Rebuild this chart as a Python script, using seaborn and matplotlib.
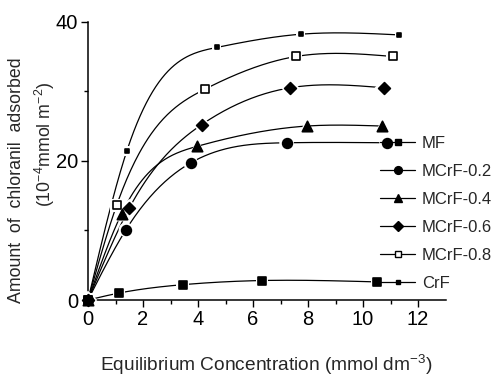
import numpy as np
import pandas as pd
import matplotlib
matplotlib.use("Agg")
import matplotlib.pyplot as plt
from matplotlib.lines import Line2D
import seaborn as sns

# ---- data ----
series_names = ["MF", "MCrF-0.2", "MCrF-0.4", "MCrF-0.6", "MCrF-0.8", "CrF"]
mf_x = [0, 1.13, 3.44, 6.32, 10.5]
mf_y = [0, 1.0, 2.2, 2.8, 2.6]
m02_x = [0, 1.38, 3.73, 7.22, 10.86]
m02_y = [0, 10.1, 19.7, 22.6, 22.6]
m04_x = [0, 1.22, 3.98, 7.95, 10.7]
m04_y = [0, 12.4, 22.1, 25.0, 25.0]
m06_x = [0, 1.5, 4.13, 7.35, 10.76]
m06_y = [0, 13.2, 25.2, 30.5, 30.5]
m08_x = [0, 1.04, 4.25, 7.56, 11.08]
m08_y = [0, 13.6, 30.3, 35.0, 35.0]
crf_x = [0, 1.41, 4.68, 7.73, 11.32]
crf_y = [0, 21.4, 36.3, 38.2, 38.1]
x_ticks = [0, 2, 4, 6, 8, 10, 12]
y_ticks = [0, 20, 40]

series_x = [mf_x, m02_x, m04_x, m06_x, m08_x, crf_x]
series_y = [mf_y, m02_y, m04_y, m06_y, m08_y, crf_y]

# ---- styles ----
styles = {
    "MF":       dict(marker="s", size=5.5, fc="black"),
    "MCrF-0.2": dict(marker="o", size=7.0, fc="black"),
    "MCrF-0.4": dict(marker="^", size=7.5, fc="black"),
    "MCrF-0.6": dict(marker="D", size=6.0, fc="black"),
    "MCrF-0.8": dict(marker="s", size=6.0, fc="white"),
    "CrF":      dict(marker="s", size=3.2, fc="black"),
}


def natural_spline(x, y, n=300):
    x = np.asarray(x, float)
    y = np.asarray(y, float)
    k = len(x)
    h = np.diff(x)
    A = np.zeros((k, k))
    b = np.zeros(k)
    A[0, 0] = 1
    A[-1, -1] = 1
    for i in range(1, k - 1):
        A[i, i - 1] = h[i - 1]
        A[i, i] = 2 * (h[i - 1] + h[i])
        A[i, i + 1] = h[i]
        b[i] = 6 * ((y[i + 1] - y[i]) / h[i] - (y[i] - y[i - 1]) / h[i - 1])
    M = np.linalg.solve(A, b)
    xs = np.linspace(x[0], x[-1], n)
    idx = np.clip(np.searchsorted(x, xs) - 1, 0, k - 2)
    x0, x1 = x[idx], x[idx + 1]
    hh = x1 - x0
    t0 = x1 - xs
    t1 = xs - x0
    ys = (M[idx] * t0 ** 3 / (6 * hh) + M[idx + 1] * t1 ** 3 / (6 * hh)
          + (y[idx] / hh - M[idx] * hh / 6) * t0
          + (y[idx + 1] / hh - M[idx + 1] * hh / 6) * t1)
    return xs, ys


sns.set_style("ticks")
plt.rcParams["font.family"] = ["Liberation Sans", "DejaVu Sans"]
plt.rcParams["mathtext.fontset"] = "custom"
plt.rcParams["mathtext.rm"] = "Liberation Sans"
plt.rcParams["mathtext.it"] = "Liberation Sans"

fig = plt.figure(figsize=(4.98, 3.79), dpi=100)
ax = fig.add_axes([88 / 498, 79 / 379, 357.5 / 498, 278.3 / 379])

order = ["CrF", "MCrF-0.8", "MCrF-0.6", "MCrF-0.4", "MF", "MCrF-0.2"]
for name in order:
    i = series_names.index(name)
    xs, ys = natural_spline(series_x[i], series_y[i])
    sns.lineplot(x=xs, y=ys, ax=ax, color="black", lw=0.9, sort=False,
                 zorder=2, estimator=None)

for name in order:
    i = series_names.index(name)
    st = styles[name]
    df = pd.DataFrame({"x": series_x[i], "y": series_y[i]})
    # white halo (gap of the line around the marker)
    sns.scatterplot(data=df, x="x", y="y", ax=ax, marker=st["marker"],
                    s=(st["size"] + 3.5) ** 2, color="white", edgecolor="none",
                    zorder=3, clip_on=False, legend=False)
    sns.scatterplot(data=df, x="x", y="y", ax=ax, marker=st["marker"],
                    s=st["size"] ** 2, facecolor=st["fc"], edgecolor="black",
                    linewidth=1.2, zorder=4, clip_on=False, legend=False)

ax.set_xlim(0, 13)
ax.set_ylim(0, 40)
ax.set_xticks(x_ticks)
ax.set_yticks(y_ticks)
ax.set_xticks(np.arange(1, 13, 2), minor=True)
ax.set_yticks([10, 30], minor=True)
ax.tick_params(axis="both", which="major", direction="out", length=5, width=1,
               labelsize=14.5, pad=2, color="black", labelcolor="black")
ax.tick_params(axis="both", which="minor", direction="out", length=3, width=1,
               color="black")
sns.despine(ax=ax)
for sp in ["left", "bottom"]:
    ax.spines[sp].set_linewidth(1.1)
    ax.spines[sp].set_color("black")
ax.set_xlabel("")
ax.set_ylabel("")

fig.text(266 / 498, 1 - 365 / 379, "Equilibrium Concentration (mmol dm$^{-3}$)",
         ha="center", va="center", fontsize=13.8)
fig.text(17 / 498, 1 - 180 / 379, "Amount  of  chloranil  adsorbed",
         ha="center", va="center", rotation=90, fontsize=12.8)
fig.text(45 / 498, 1 - 144 / 379, "(10$^{-4}$mmol m$^{-2}$)",
         ha="center", va="center", rotation=90, fontsize=12.8)

handles = []
for name in series_names:
    st = styles[name]
    handles.append(Line2D([0], [0], color="black", lw=0.9, marker=st["marker"],
                          markersize=st["size"] * 0.8, markerfacecolor=st["fc"],
                          markeredgecolor="black"))
leg = fig.legend(handles, series_names, loc="upper left",
                 bbox_to_anchor=(380 / 498, 1 - 136 / 379), frameon=False,
                 fontsize=12, borderpad=0, borderaxespad=0, handlelength=2.1,
                 handletextpad=0.4, labelspacing=0.78)

fig.savefig("out.png", dpi=100)
